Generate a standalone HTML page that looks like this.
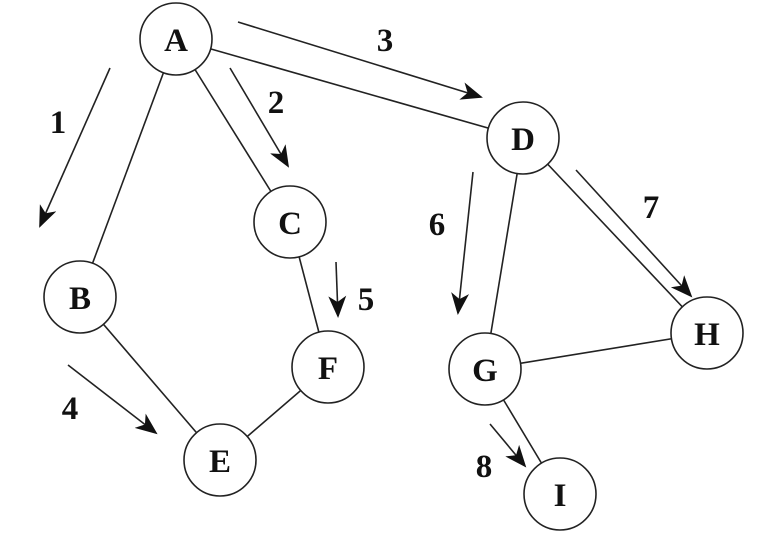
<!DOCTYPE html>
<html><head><style>body{margin:0;background:#fff}svg{display:block}text{font-family:"Liberation Serif","DejaVu Serif",serif;font-weight:bold}</style></head><body>
<svg width="757" height="541" viewBox="0 0 757 541" xmlns="http://www.w3.org/2000/svg">
<defs>
<marker id="ah" markerWidth="22" markerHeight="18" refX="20" refY="9" orient="auto" markerUnits="userSpaceOnUse">
<path d="M0,0 L22,9 L0,18 L6,9 Z" fill="#111"/>
</marker>
</defs>
<g stroke="#222" stroke-width="1.6" fill="none">
<line x1="176" y1="39" x2="80" y2="297"/>
<line x1="176" y1="39" x2="290" y2="222"/>
<line x1="176" y1="39" x2="523" y2="138"/>
<line x1="290" y1="222" x2="328" y2="367"/>
<line x1="80" y1="297" x2="220" y2="460"/>
<line x1="220" y1="460" x2="328" y2="367"/>
<line x1="523" y1="138" x2="485" y2="369"/>
<line x1="523" y1="138" x2="707" y2="333"/>
<line x1="485" y1="369" x2="707" y2="333"/>
<line x1="485" y1="369" x2="560" y2="494"/>
</g>
<g stroke="#222" stroke-width="1.6" marker-end="url(#ah)">
<line x1="110" y1="68" x2="40" y2="226"/>
<line x1="230" y1="68" x2="288" y2="166"/>
<line x1="238" y1="22" x2="481" y2="97"/>
<line x1="68" y1="365" x2="156" y2="433"/>
<line x1="336" y1="262" x2="338" y2="316"/>
<line x1="473" y1="172" x2="458" y2="313"/>
<line x1="576" y1="170" x2="691" y2="296"/>
<line x1="490" y1="424" x2="525" y2="466"/>
</g>
<g fill="#fff" stroke="#222" stroke-width="1.6">
<circle cx="176" cy="39" r="36"/>
<circle cx="523" cy="138" r="36"/>
<circle cx="290" cy="222" r="36"/>
<circle cx="80" cy="297" r="36"/>
<circle cx="328" cy="367" r="36"/>
<circle cx="220" cy="460" r="36"/>
<circle cx="485" cy="369" r="36"/>
<circle cx="707" cy="333" r="36"/>
<circle cx="560" cy="494" r="36"/>
</g>
<g font-size="33" fill="#111" text-anchor="middle">
<text x="176" y="51">A</text>
<text x="523" y="150">D</text>
<text x="290" y="234">C</text>
<text x="80" y="309">B</text>
<text x="328" y="379">F</text>
<text x="220" y="472">E</text>
<text x="485" y="381">G</text>
<text x="707" y="345">H</text>
<text x="560" y="506">I</text>
<text x="58" y="133">1</text>
<text x="276" y="113">2</text>
<text x="385" y="51">3</text>
<text x="70" y="419">4</text>
<text x="366" y="310">5</text>
<text x="437" y="235">6</text>
<text x="651" y="218">7</text>
<text x="484" y="477">8</text>
</g>
</svg>
</body></html>
